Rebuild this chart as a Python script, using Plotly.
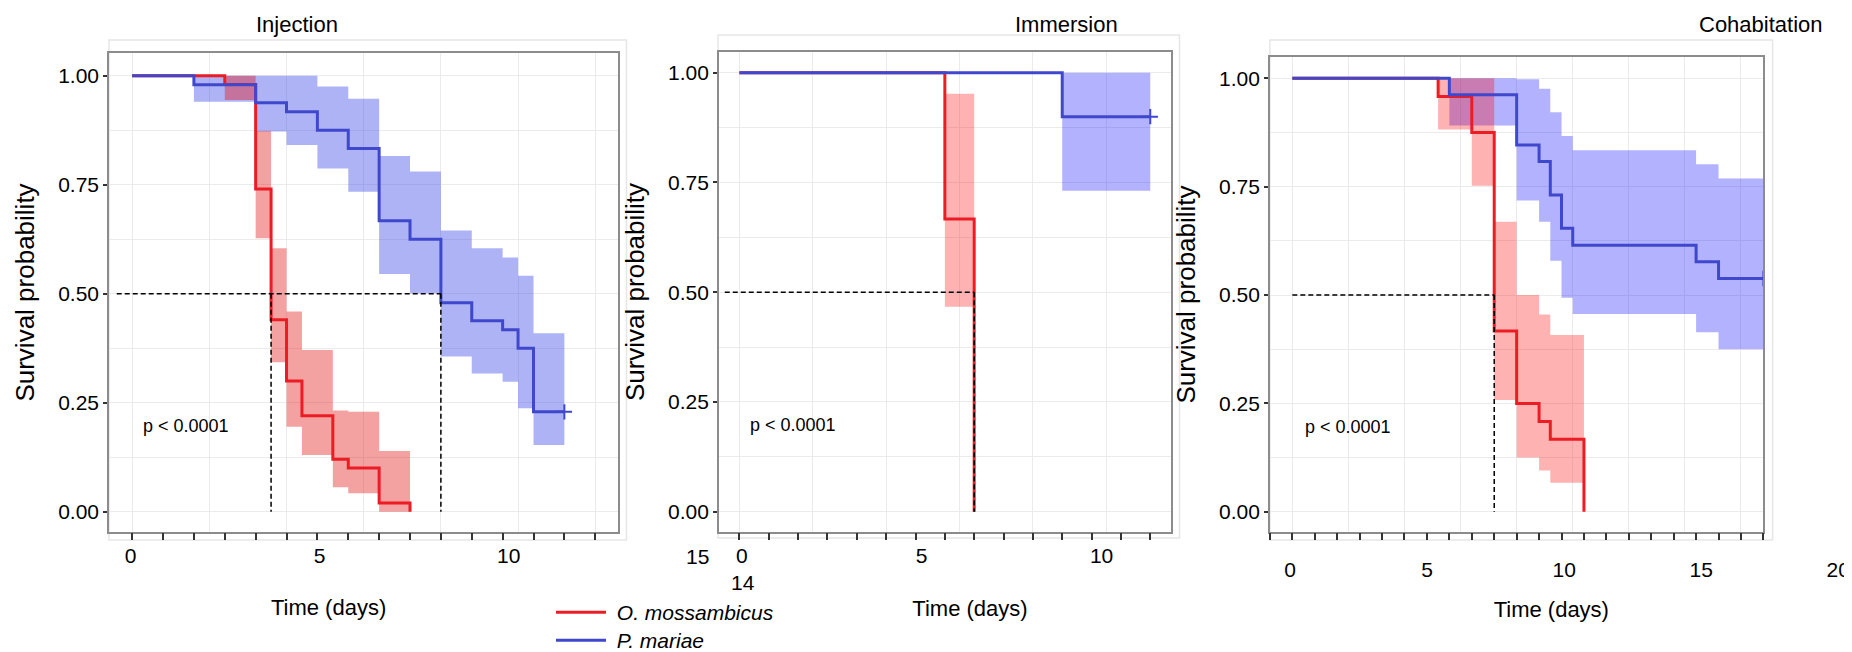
import plotly.graph_objects as go

W, H = 1852, 652
OFF = 8  # page body margin of the written html page

# ------------------------------------------------------------------ data
series_names = ["<i>O. mossambicus</i>", "<i>P. mariae</i>"]
panel_titles = ["Injection", "Immersion", "Cohabitation"]
p_text = "p < 0.0001"

# Injection
inj_om_t = [0, 3, 4, 4.5, 5, 5.5, 6.5, 7, 8, 9]
inj_om_s = [1.0, 0.98, 0.74, 0.44, 0.30, 0.22, 0.12, 0.10, 0.02, 0.0]
inj_om_ci_t = [3, 4, 4.5, 5, 5.5, 6.5, 7, 8, 9]
inj_om_ci_hi = [1.0, 0.873, 0.604, 0.459, 0.371, 0.232, 0.229, 0.139]
inj_om_ci_lo = [0.944, 0.627, 0.343, 0.195, 0.130, 0.056, 0.042, 0.0]
inj_pm_t = [0, 2, 4, 5, 6, 7, 8, 9, 10, 11, 12, 12.5, 13, 14]
inj_pm_s = [1.0, 0.979, 0.938, 0.917, 0.875, 0.833, 0.667, 0.625, 0.479, 0.438, 0.417, 0.375, 0.229, 0.229]
inj_pm_ci_t = [2, 4, 5, 6, 7, 8, 9, 10, 11, 12, 12.5, 13, 14]
inj_pm_ci_hi = [1.0, 1.0, 1.0, 0.975, 0.947, 0.816, 0.780, 0.645, 0.604, 0.583, 0.541, 0.409]
inj_pm_ci_lo = [0.940, 0.872, 0.841, 0.787, 0.734, 0.545, 0.501, 0.356, 0.317, 0.298, 0.237, 0.153]
inj_medians = [4.5, 10]
inj_median_from = -0.5
inj_censor = [14]

# Immersion
imm_om_t = [0, 7, 8]
imm_om_s = [1.0, 0.667, 0.0]
imm_om_ci_t = [7, 8]
imm_om_ci_hi = [0.952]
imm_om_ci_lo = [0.467]
imm_pm_t = [0, 11, 14]
imm_pm_s = [1.0, 0.9, 0.9]
imm_pm_ci_t = [11, 14]
imm_pm_ci_hi = [1.0]
imm_pm_ci_lo = [0.731]
imm_medians = [8]
imm_median_from = -0.5
imm_censor = [14]

# Cohabitation
coh_om_t = [0, 6.5, 8, 9, 10, 11, 11.5, 13]
coh_om_s = [1.0, 0.958, 0.875, 0.417, 0.25, 0.208, 0.167, 0.0]
coh_om_ci_t = [6.5, 8, 9, 10, 11, 11.5, 13]
coh_om_ci_hi = [1.0, 1.0, 0.669, 0.5, 0.455, 0.408]
coh_om_ci_lo = [0.882, 0.752, 0.258, 0.125, 0.095, 0.067]
coh_pm_t = [0, 7, 10, 11, 11.5, 12, 12.5, 18, 19, 21]
coh_pm_s = [1.0, 0.962, 0.846, 0.808, 0.731, 0.654, 0.615, 0.577, 0.538, 0.538]
coh_pm_ci_t = [7, 10, 11, 11.5, 12, 12.5, 18, 19, 21]
coh_pm_ci_hi = [1.0, 0.998, 0.976, 0.922, 0.867, 0.834, 0.802, 0.769]
coh_pm_ci_lo = [0.891, 0.718, 0.669, 0.579, 0.494, 0.456, 0.414, 0.375]
coh_medians = [9]
coh_median_from = 0
coh_censor = [21]

# x tick labels shown under each panel
inj_xlabels = [0, 5, 10]
imm_xlabels = [0, 5, 10]
coh_xlabels = [0, 5, 10, 15, 20]
y_ticks = [0, 0.25, 0.5, 0.75, 1.0]
stray_labels = ["15", "14"]

# ------------------------------------------------------------------ style
FONT = "Liberation Sans, Arial, sans-serif"
RED = "#EC1C24"
BLUE = "#3F48CC"
GRID = "#EBEBEB"
BORDER = "#8C8C8C"
TICK = "#333333"
NBSP = "\u00a0"

panels = [
    dict(om=(inj_om_t, inj_om_s, inj_om_ci_t, inj_om_ci_hi, inj_om_ci_lo),
         pm=(inj_pm_t, inj_pm_s, inj_pm_ci_t, inj_pm_ci_hi, inj_pm_ci_lo),
         med=inj_medians, med0=inj_median_from, cens=inj_censor,
         xlab=inj_xlabels,
         red_fill="rgba(228,26,28,0.41)", blue_fill="rgba(60,75,230,0.42)",
         xpx=(109, 618.4), xr=(-0.75, 15.75), ypx=(53, 532), yr=(-0.0466, 1.052),
         lab_px=(125.6, 531.6), lab_r=(-0.132, 10.608), lab_off=9, ttl_off=33,
         frame=(109, 40, 626.5, 540), title_xy=(297, 25), p_xy=(0.29, 0.197)),
    dict(om=(imm_om_t, imm_om_s, imm_om_ci_t, imm_om_ci_hi, imm_om_ci_lo),
         pm=(imm_pm_t, imm_pm_s, imm_pm_ci_t, imm_pm_ci_hi, imm_pm_ci_lo),
         med=imm_medians, med0=imm_median_from, cens=imm_censor,
         xlab=imm_xlabels,
         red_fill="rgba(255,0,0,0.3)", blue_fill="rgba(0,0,255,0.3)",
         xpx=(718.9, 1170.8), xr=(-0.7, 14.7), ypx=(51.7, 532.3), yr=(-0.047, 1.048),
         lab_px=(735, 1205), lab_r=(-0.189, 12.874), lab_off=9, ttl_off=34,
         frame=(718, 35, 1179.5, 538), title_xy=(1066, 25), p_xy=(0.30, 0.197)),
    dict(om=(coh_om_t, coh_om_s, coh_om_ci_t, coh_om_ci_hi, coh_om_ci_lo),
         pm=(coh_pm_t, coh_pm_s, coh_pm_ci_t, coh_pm_ci_hi, coh_pm_ci_lo),
         med=coh_medians, med0=coh_median_from, cens=coh_censor,
         xlab=coh_xlabels,
         red_fill="rgba(255,0,0,0.3)", blue_fill="rgba(0,0,255,0.3)",
         xpx=(1269.9, 1763.4), xr=(-1, 21), ypx=(56.7, 532.3), yr=(-0.0475, 1.05),
         lab_px=(1256.3, 1846.3), lab_r=(-1.237, 20.296), lab_off=23, ttl_off=21,
         frame=(1269.9, 40, 1772.6, 540), title_xy=(1761, 25), p_xy=(0.46, 0.195)),
]


def px_x(v):
    return (v - OFF) / W


def px_y(v):
    return 1 - (v - OFF) / H


fig = go.Figure()
layout = dict(
    template="none",
    width=W, height=H, margin=dict(l=0, r=0, t=0, b=0, autoexpand=False),
    paper_bgcolor="white", plot_bgcolor="rgba(0,0,0,0)",
    font=dict(family=FONT, color="black", size=21),
    annotations=[], shapes=[],
)


def band(xa, ya, ci_t, hi, lo, color):
    fig.add_trace(go.Scatter(x=ci_t, y=hi + [hi[-1]], mode="lines", line=dict(width=0, shape="hv"),
                             xaxis=xa, yaxis=ya, showlegend=False, hoverinfo="skip"))
    fig.add_trace(go.Scatter(x=ci_t, y=lo + [lo[-1]], mode="lines", line=dict(width=0, shape="hv"),
                             fill="tonexty", fillcolor=color,
                             xaxis=xa, yaxis=ya, showlegend=False, hoverinfo="skip"))


for i, p in enumerate(panels):
    n = i + 1
    xa = "x" if n == 1 else f"x{n}"
    ya = "y" if n == 1 else f"y{n}"
    xkey = "xaxis" if n == 1 else f"xaxis{n}"
    ykey = "yaxis" if n == 1 else f"yaxis{n}"
    tk = 3 + n      # overlay x axis with the daily tick marks
    lb = 6 + n      # x axis with printed labels + title
    ly = 3 + n      # blank y axis that the label axis hangs from

    xd = [px_x(p["xpx"][0]), px_x(p["xpx"][1])]
    yd = [px_y(p["ypx"][1]), px_y(p["ypx"][0])]

    om_t, om_s, om_ct, om_hi, om_lo = p["om"]
    pm_t, pm_s, pm_ct, pm_hi, pm_lo = p["pm"]

    band(xa, ya, pm_ct, pm_hi, pm_lo, p["blue_fill"])
    band(xa, ya, om_ct, om_hi, om_lo, p["red_fill"])

    fig.add_trace(go.Scatter(x=om_t, y=om_s, mode="lines", line=dict(color=RED, width=3, shape="hv"),
                             name=NBSP + series_names[0], legend="legend", showlegend=(n == 1),
                             xaxis=xa, yaxis=ya))
    fig.add_trace(go.Scatter(x=pm_t, y=pm_s, mode="lines", line=dict(color=BLUE, width=3, shape="hv"),
                             name=NBSP + series_names[1], legend="legend2", showlegend=(n == 1),
                             xaxis=xa, yaxis=ya))

    # median survival guide lines
    mx = [p["med0"], max(p["med"])]
    my = [0.5, 0.5]
    for m in p["med"]:
        mx += [None, m, m]
        my += [None, 0.5, 0]
    fig.add_trace(go.Scatter(x=mx, y=my, mode="lines",
                             line=dict(color="black", width=1.5, dash="5px,3px"),
                             xaxis=xa, yaxis=ya, showlegend=False, hoverinfo="skip"))

    # censor marks
    cy = [pm_s[pm_t.index(c)] for c in p["cens"]]
    fig.add_trace(go.Scatter(x=p["cens"], y=cy, mode="markers",
                             marker=dict(symbol="cross-thin", size=11, line=dict(color=BLUE, width=2)),
                             xaxis=xa, yaxis=ya, showlegend=False, hoverinfo="skip"))

    # empty traces so the helper axes get drawn
    fig.add_trace(go.Scatter(x=[], y=[], xaxis=f"x{tk}", yaxis=ya, showlegend=False,
                             hoverinfo="skip", mode="lines"))
    fig.add_trace(go.Scatter(x=[], y=[], xaxis=f"x{lb}", yaxis=f"y{ly}", showlegend=False,
                             hoverinfo="skip", mode="lines"))

    layout[xkey] = dict(domain=xd, range=list(p["xr"]), anchor=ya, automargin=False,
                        tick0=0, dtick=2.5, showticklabels=False, ticks="",
                        showgrid=True, gridcolor=GRID, gridwidth=1.2, zeroline=False,
                        showline=True, mirror=True, linecolor=BORDER, linewidth=1.5)
    layout[ykey] = dict(domain=yd, range=list(p["yr"]), anchor=xa, automargin=False,
                        tickvals=y_ticks, tickformat=".2f", ticks="outside", ticklen=4,
                        tickwidth=1.5, tickcolor=TICK, tickfont=dict(size=21),
                        showgrid=True, gridcolor=GRID, gridwidth=1.2, zeroline=False,
                        minor=dict(dtick=0.125, tick0=0, showgrid=True, gridcolor=GRID, gridwidth=1.2),
                        showline=True, mirror=True, linecolor=BORDER, linewidth=1.5,
                        title=dict(text="Survival probability", font=dict(size=26), standoff=16))

    layout[f"xaxis{tk}"] = dict(overlaying=xa, anchor=ya, range=list(p["xr"]), automargin=False,
                                tick0=0, dtick=1, ticks="outside", ticklen=7, tickwidth=1.5,
                                tickcolor=TICK, showticklabels=False, showgrid=False,
                                zeroline=False, showline=False)
    layout[f"yaxis{ly}"] = dict(domain=yd, anchor=f"x{lb}", range=[0, 1], automargin=False,
                                showgrid=False, showticklabels=False, ticks="", showline=False,
                                zeroline=False)
    layout[f"xaxis{lb}"] = dict(domain=[px_x(p["lab_px"][0]), px_x(p["lab_px"][1])],
                                anchor=f"y{ly}", range=list(p["lab_r"]), automargin=False,
                                tickvals=p["xlab"], ticks="", showgrid=False, zeroline=False,
                                showline=False, tickfont=dict(size=21),
                                ticklabelstandoff=p["lab_off"],
                                title=dict(text="Time (days)", font=dict(size=22),
                                           standoff=p["ttl_off"]))

    layout["annotations"].append(dict(text=panel_titles[i], x=px_x(p["title_xy"][0]),
                                      y=px_y(p["title_xy"][1]), xref="paper", yref="paper",
                                      showarrow=False, font=dict(size=22),
                                      xanchor="center", yanchor="middle"))
    layout["annotations"].append(dict(text=p_text, x=p["p_xy"][0], y=p["p_xy"][1],
                                      xref=xa, yref=ya, showarrow=False, font=dict(size=18),
                                      xanchor="left", yanchor="middle"))
    f = p["frame"]
    layout["shapes"].append(dict(type="rect", xref="paper", yref="paper",
                                 x0=px_x(f[0]), x1=px_x(f[2]), y0=px_y(f[3]), y1=px_y(f[1]),
                                 line=dict(color="#E6E6E6", width=1.5), layer="below"))

# stray labels that appear under the middle panel
for txt, (sx, sy) in zip(stray_labels, [(697, 556), (742.6, 582.7)]):
    layout["annotations"].append(dict(text=txt, x=px_x(sx), y=px_y(sy), xref="paper",
                                      yref="paper", showarrow=False, font=dict(size=21),
                                      xanchor="center", yanchor="middle"))

legend_style = dict(xanchor="left", yanchor="top", font=dict(size=21), itemwidth=50,
                    bgcolor="rgba(0,0,0,0)")
layout["legend"] = dict(x=px_x(551), y=px_y(592), **legend_style)
layout["legend2"] = dict(x=px_x(551), y=px_y(620), **legend_style)
layout["showlegend"] = True

fig.update_layout(**layout)
fig.write_html("out.html")
